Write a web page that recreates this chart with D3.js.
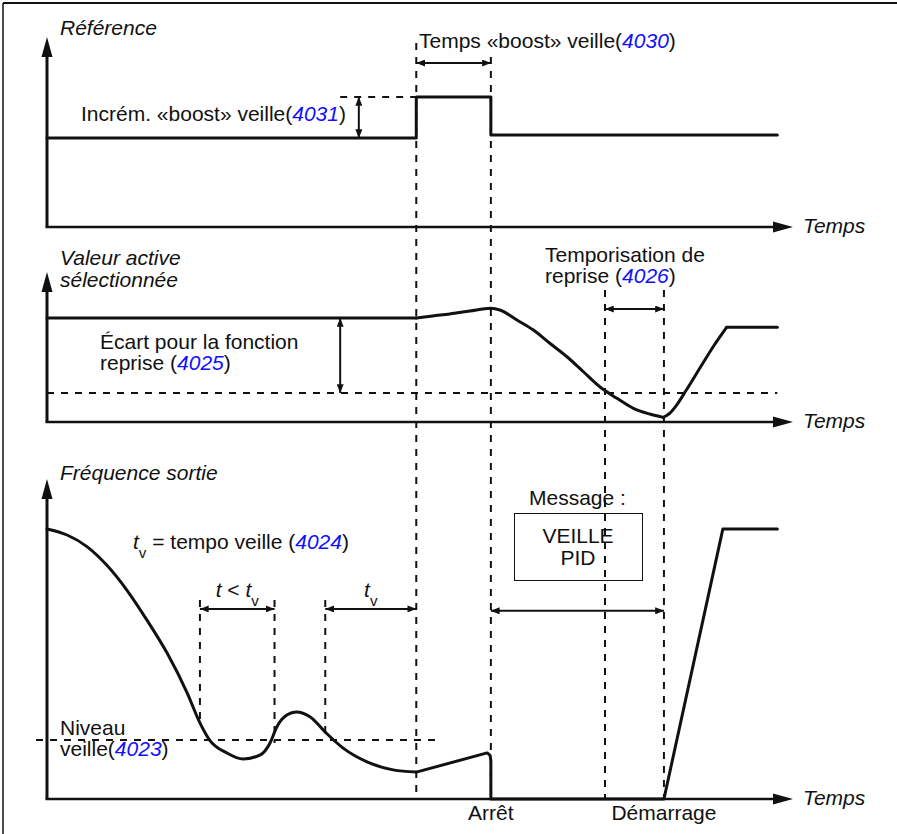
<!DOCTYPE html>
<html>
<head>
<meta charset="utf-8">
<script src="https://cdn.jsdelivr.net/npm/d3@7"></script>
<style>
  html, body { margin: 0; padding: 0; background: #fff; }
  svg { display: block; }
  text { font-family: "Liberation Sans", Arial, sans-serif; fill: #111; }
</style>
</head>
<body>
<svg id="chart" width="897" height="834"></svg>
<script>
// ---------------- DATA (time in % of the time axis, values in % of each panel height) ----------------
const panelTitles = [["Référence"], ["Valeur active", "sélectionnée"], ["Fréquence sortie"]];
const axisLabel = "Temps";

// key instants
const tBoostStart = 49.5, tBoostEnd = 59.5, tWake = 74.8, tStart = 82.7, tEnd = 97.9;
const tSleepA = 20.5, tSleepB = 30.5, tSleepC = 37.3;

// Panel 1: reference
const refTimes  = [0, tBoostStart, tBoostStart, tBoostEnd, tBoostEnd, tEnd];
const refValues = [46.8, 46.8, 68.4, 68.4, 48.4, 48.4];
const boostLevel = 68.4, refBase = 46.8;

// Panel 2: active value
const actFlatTimes  = [0, tBoostStart];
const actFlatValues = [69.3, 69.3];
const actFallTimes  = [49.5, 51.7, 54.0, 56.7, 59.5, 60.7, 63.0, 65.2, 67.4, 69.7, 71.9, 74.1, 76.4, 78.6, 80.8, 82.6];
const actFallValues = [69.3, 70.7, 72.0, 74.0, 75.8, 74.7, 68.0, 61.3, 52.5, 43.5, 33.5, 23.5, 15.8, 9.1, 5.3, 3.1];
const actRiseTimes  = [82.6, 83.4, 84.4, 85.7, 87.5, 89.3, 91.1];
const actRiseValues = [3.1, 5.5, 11.3, 21.3, 35.8, 50.2, 63.1];
const actEndTimes   = [91.1, tEnd];
const actEndValues  = [63.1, 63.1];
const wakeLevel = 19.3;

// Panel 3: output frequency
const freqSmoothTimes  = [0, 2.7, 5.4, 8.0, 10.7, 13.4, 16.1, 18.8, 20.5, 21.8, 24.1, 26.3, 28.6, 29.9, 30.8, 32.2, 33.4, 35.3, 37.3, 39.7, 42.9, 46.4, 49.5];
const freqSmoothValues = [84.4, 82.5, 78.8, 73.1, 65.3, 55.9, 45.6, 33.1, 23.8, 18.4, 14.4, 12.5, 13.8, 17.5, 22.5, 26.3, 27.2, 25.6, 20.9, 15.9, 11.6, 9.1, 8.4];
const freqTailTimes  = [49.5, 59.0, 59.4, 59.5, 59.5, tStart, 90.6, tEnd];
const freqTailValues = [8.4, 14.4, 13.6, 12.0, 0, 0, 84.4, 84.4];
const sleepLevel = 18.4;

// ---------------- LAYOUT ----------------
const svg = d3.select("#chart");
const x = d3.scaleLinear().domain([0, 100]).range([47, 793]);
const y1 = d3.scaleLinear().domain([0, 100]).range([227, 37]);
const y2 = d3.scaleLinear().domain([0, 100]).range([422, 272]);
const y3 = d3.scaleLinear().domain([0, 100]).range([799, 479]);
const BLUE = "#1010ff";
const FS = 21;

// frame (top + left edges)
svg.append("line").attr("x1", 3).attr("y1", 3).attr("x2", 897).attr("y2", 3).attr("stroke", "#111").attr("stroke-width", 2);
svg.append("line").attr("x1", 3).attr("y1", 3).attr("x2", 3).attr("y2", 834).attr("stroke", "#111").attr("stroke-width", 1.5);

// markers
const defs = svg.append("defs");
defs.append("marker").attr("id", "ah").attr("viewBox", "0 0 10 8")
  .attr("refX", 10).attr("refY", 4).attr("markerWidth", 9).attr("markerHeight", 7)
  .attr("markerUnits", "userSpaceOnUse").attr("orient", "auto-start-reverse")
  .append("path").attr("d", "M0,0 L10,4 L0,8 Z").attr("fill", "#111");

function dashed(x1, yA, x2, yB) {
  svg.append("line").attr("x1", x1).attr("y1", yA).attr("x2", x2).attr("y2", yB)
    .attr("stroke", "#111").attr("stroke-width", 2).attr("stroke-dasharray", "7,7");
}
function dblArrow(x1, yA, x2, yB) {
  svg.append("line").attr("x1", x1).attr("y1", yA).attr("x2", x2).attr("y2", yB)
    .attr("stroke", "#111").attr("stroke-width", 2)
    .attr("marker-start", "url(#ah)").attr("marker-end", "url(#ah)");
}
function axes(ys) {
  const x0 = x(0), yb = ys(0), yt = ys(100), xr = x(100);
  svg.append("line").attr("x1", x0).attr("y1", yb).attr("x2", x0).attr("y2", yt + 18).attr("stroke", "#111").attr("stroke-width", 3);
  svg.append("path").attr("d", `M${x0},${yt} L${x0 + 5.5},${yt + 20} L${x0 - 5.5},${yt + 20} Z`).attr("fill", "#111");
  svg.append("line").attr("x1", x0 - 1.5).attr("y1", yb).attr("x2", xr - 18).attr("y2", yb).attr("stroke", "#111").attr("stroke-width", 2.5);
  svg.append("path").attr("d", `M${xr},${yb} L${xr - 20},${yb - 5.5} L${xr - 20},${yb + 5.5} Z`).attr("fill", "#111");
  svg.append("text").attr("x", xr + 10).attr("y", yb + 6).attr("font-size", FS).attr("font-style", "italic").text(axisLabel);
}
function label(xp, yp, parts, anchor) {
  const t = svg.append("text").attr("x", xp).attr("y", yp).attr("font-size", FS).attr("text-anchor", anchor || "start");
  parts.forEach(p => {
    const s = t.append("tspan").text(p.s);
    if (p.blue) s.attr("fill", BLUE).attr("font-style", "italic");
    if (p.it) s.attr("font-style", "italic");
    if (p.sub) s.attr("font-size", FS * 0.72).attr("baseline-shift", "sub");
  });
  return t;
}
function drawLine(times, values, ys, curve, w) {
  const pts = times.map((t, i) => [t, values[i]]);
  svg.append("path").datum(pts)
    .attr("d", d3.line().x(d => x(d[0])).y(d => ys(d[1])).curve(curve))
    .attr("fill", "none").attr("stroke", "#111").attr("stroke-width", w || 3).attr("stroke-linejoin", "round").attr("stroke-linecap", "round");
}

// ---------------- long vertical dashed guides ----------------
dashed(x(tBoostStart), y1(96.8), x(tBoostStart), y3(0));
dashed(x(tBoostEnd), y1(89.5), x(tBoostEnd), y3(0));
dashed(x(tWake), y2(88), x(tWake), y3(0));
dashed(x(tStart), y2(88), x(tStart), y3(0));

// ---------------- Panel 1 ----------------
axes(y1);
panelTitles[0].forEach((s, i) => svg.append("text").attr("x", 60).attr("y", 35 + i * 22).attr("font-size", FS).attr("font-style", "italic").text(s));
dashed(x(39.3), y1(boostLevel), x(tBoostStart), y1(boostLevel));
drawLine(refTimes, refValues, y1, d3.curveLinear, 3);
dblArrow(x(41.8), y1(boostLevel), x(41.8), y1(refBase));
dblArrow(x(tBoostStart), y1(86.3), x(tBoostEnd), y1(86.3));
label(81, 121, [{s: "Incrém. «boost» veille("}, {s: "4031", blue: true}, {s: ")"}]);
label(419, 48, [{s: "Temps «boost» veille("}, {s: "4030", blue: true}, {s: ")"}]);

// ---------------- Panel 2 ----------------
axes(y2);
panelTitles[1].forEach((s, i) => svg.append("text").attr("x", 60).attr("y", 265 + i * 22).attr("font-size", FS).attr("font-style", "italic").text(s));
dashed(x(0), y2(wakeLevel), x(tEnd), y2(wakeLevel));
drawLine(actFlatTimes, actFlatValues, y2, d3.curveLinear, 3);
drawLine(actFallTimes, actFallValues, y2, d3.curveMonotoneX, 3);
drawLine(actRiseTimes, actRiseValues, y2, d3.curveMonotoneX, 3);
drawLine(actEndTimes, actEndValues, y2, d3.curveLinear, 3);
dblArrow(x(39.3), y2(69.3), x(39.3), y2(wakeLevel));
dblArrow(x(tWake), y2(75.3), x(tStart), y2(75.3));
label(100, 349, [{s: "Écart pour la fonction"}]);
label(100, 370, [{s: "reprise ("}, {s: "4025", blue: true}, {s: ")"}]);
label(545, 262, [{s: "Temporisation de"}]);
label(545, 283, [{s: "reprise ("}, {s: "4026", blue: true}, {s: ")"}]);

// ---------------- Panel 3 ----------------
axes(y3);
panelTitles[2].forEach((s, i) => svg.append("text").attr("x", 60).attr("y", 480 + i * 22).attr("font-size", FS).attr("font-style", "italic").text(s));
dashed(36, y3(sleepLevel), 437, y3(sleepLevel));
dashed(x(tSleepA), y3(62.2), x(tSleepA), y3(23.8));
dashed(x(tSleepB), y3(62.2), x(tSleepB), y3(17.5));
dashed(x(tSleepC), y3(62.2), x(tSleepC), y3(20.9));
drawLine(freqSmoothTimes, freqSmoothValues, y3, d3.curveMonotoneX, 3);
drawLine(freqTailTimes, freqTailValues, y3, d3.curveLinear, 3);
dblArrow(x(tSleepA), y3(59.4), x(tSleepB), y3(59.4));
dblArrow(x(tSleepC), y3(59.4), x(tBoostStart), y3(59.4));
dblArrow(x(tBoostEnd), y3(58.8), x(tStart), y3(58.8));

label(133, 549, [{s: "t", it: true}, {s: "v", sub: true}, {s: " = tempo veille ("}, {s: "4024", blue: true}, {s: ")"}]);
label((x(tSleepA) + x(tSleepB)) / 2, 597, [{s: "t", it: true}, {s: " < "}, {s: "t", it: true}, {s: "v", sub: true}], "middle");
label((x(tSleepC) + x(tBoostStart)) / 2, 597, [{s: "t", it: true}, {s: "v", sub: true}], "middle");
label(60, 735, [{s: "Niveau"}]);
label(60, 756, [{s: "veille("}, {s: "4023", blue: true}, {s: ")"}]);

label(529, 505, [{s: "Message :"}]);
svg.append("rect").attr("x", 514.5).attr("y", 513.5).attr("width", 128).attr("height", 67).attr("fill", "none").attr("stroke", "#111").attr("stroke-width", 1);
label(578, 543, [{s: "VEILLE"}], "middle");
label(578, 565, [{s: "PID"}], "middle");
label(x(tBoostEnd), 820, [{s: "Arrêt"}], "middle");
label(x(tStart), 820, [{s: "Démarrage"}], "middle");
</script>
</body>
</html>
